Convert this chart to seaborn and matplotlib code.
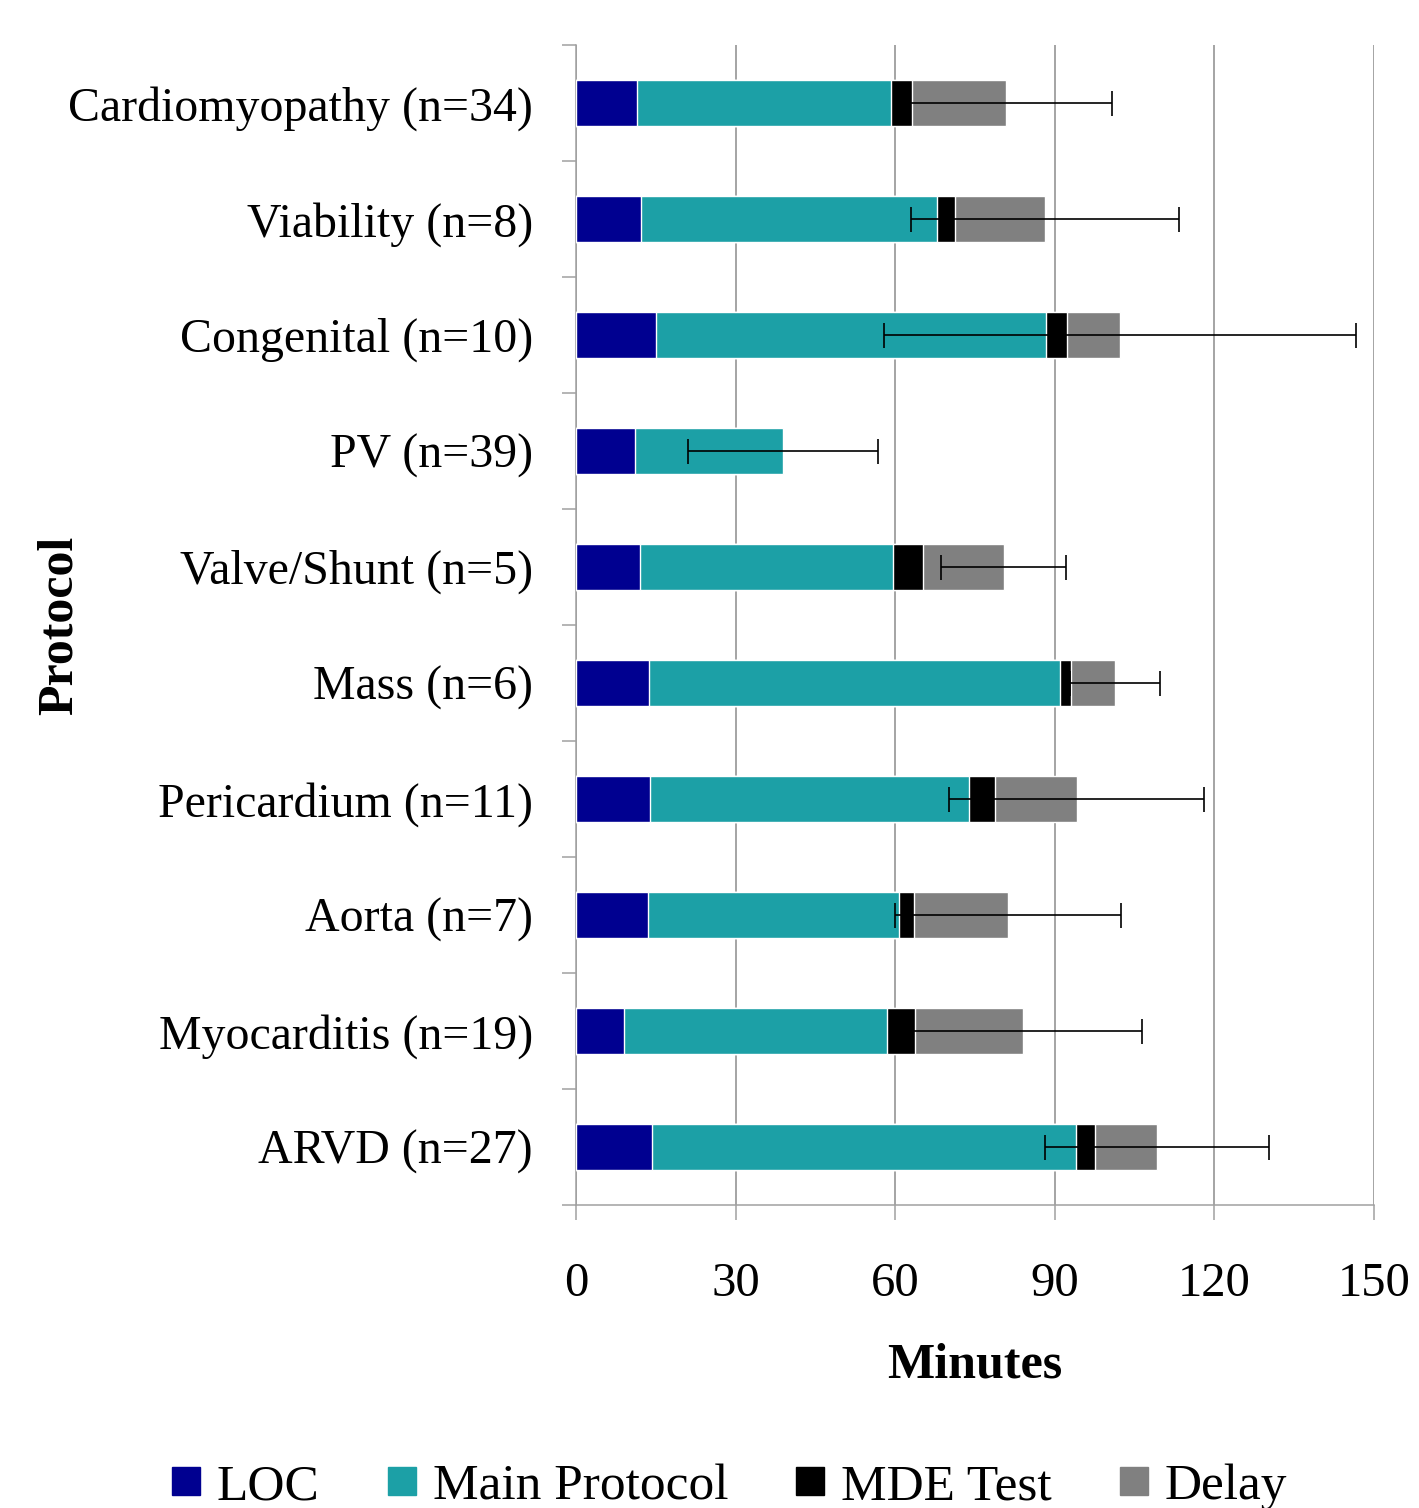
import pandas as pd
import matplotlib
matplotlib.use('Agg')
import matplotlib.pyplot as plt
from matplotlib.lines import Line2D
from matplotlib.ticker import FixedLocator
import seaborn as sns
import numpy as np

# Data (minutes)
protocols = ['Cardiomyopathy (n=34)', 'Viability (n=8)', 'Congenital (n=10)', 'PV (n=39)',
             'Valve/Shunt (n=5)', 'Mass (n=6)', 'Pericardium (n=11)', 'Aorta (n=7)',
             'Myocarditis (n=19)', 'ARVD (n=27)']
loc_min = [11.4, 12.3, 15.0, 11.1, 12.1, 13.8, 14.0, 13.6, 9.0, 14.2]
main_min = [47.9, 55.6, 73.3, 27.8, 47.4, 77.1, 59.9, 47.1, 49.4, 79.7]
mde_min = [3.9, 3.4, 4.0, 0.0, 5.8, 2.2, 4.8, 2.9, 5.4, 3.7]
delay_min = [17.7, 16.9, 10.0, 0.0, 15.1, 8.2, 15.4, 17.6, 20.3, 11.6]
total_err = [19.9, 25.2, 44.4, 17.8, 11.7, 8.5, 23.9, 21.2, 22.2, 21.1]

series = ['LOC', 'Main Protocol', 'MDE Test', 'Delay']
colors = ['#000090', '#1ca0a6', '#000000', '#808080']

df = pd.DataFrame({'protocol': protocols, 'LOC': loc_min, 'Main Protocol': main_min,
                   'MDE Test': mde_min, 'Delay': delay_min})
cum = df[series].cumsum(axis=1)
cum['protocol'] = df['protocol']

sns.set_theme(style='white')
plt.rcParams['font.family'] = ['Liberation Serif', 'DejaVu Serif']
plt.rcParams['text.color'] = 'black'
plt.rcParams['xtick.labelcolor'] = 'black'
plt.rcParams['ytick.labelcolor'] = 'black'

fig = plt.figure(figsize=(14.19, 15.08), dpi=100)
ax = fig.add_axes([576 / 1419, 1 - 1205 / 1508, 798 / 1419, 1160 / 1508])

# stacked bars: draw cumulative totals from longest to shortest
for name, col in reversed(list(zip(series, colors))):
    sns.barplot(data=cum, x=name, y='protocol', color=col, saturation=1, width=0.4,
                orient='h', errorbar=None, ax=ax, zorder=3)

ax.errorbar(cum['Delay'], np.arange(len(protocols)), xerr=total_err, fmt='none',
            ecolor='black', elinewidth=1.2, capsize=9, capthick=1.2, zorder=5)

ax.set_xlim(0, 150)
ax.set_ylim(len(protocols) - 0.5, -0.5)
ax.set_xticks([0, 30, 60, 90, 120, 150])
ax.xaxis.grid(True, color='#8c8c8c', linewidth=1.1, zorder=0)
ax.set_axisbelow(True)
ax.tick_params(axis='x', labelsize=35, length=11, width=1.1, color='#a0a0a0',
               labelcolor='black', direction='out', pad=30, bottom=True)
ax.tick_params(axis='y', which='major', labelsize=34.5, length=0, pad=31, labelcolor='black')
ax.yaxis.set_minor_locator(FixedLocator(np.arange(-0.5, len(protocols), 1.0)))
ax.tick_params(axis='y', which='minor', length=10, width=1.1, color='#a0a0a0', left=True)
ax.set_xlabel('')
ax.set_ylabel('')

for side in ['top', 'right']:
    ax.spines[side].set_visible(False)
for side in ['left', 'bottom']:
    ax.spines[side].set_color('#a0a0a0')
    ax.spines[side].set_linewidth(1.1)

fig.text(975 / 1419, 1 - 1365 / 1508, 'Minutes', ha='center', va='center',
         fontsize=36, fontweight='bold', color='black')
fig.text(60 / 1419, 1 - 625 / 1508, 'Protocol', ha='center', va='center',
         rotation=90, fontsize=36, fontweight='bold', color='black')

handles = [Line2D([], [], marker='s', linestyle='', markersize=20, color=c) for c in colors]
leg = fig.legend(handles, series, loc='center', bbox_to_anchor=(729 / 1419, 0.014), ncol=4,
                 frameon=False, fontsize=37, handlelength=0.6, handletextpad=0.3,
                 columnspacing=1.3, borderaxespad=0)
for t in leg.get_texts():
    t.set_color('black')

fig.savefig('out.png', dpi=100)
